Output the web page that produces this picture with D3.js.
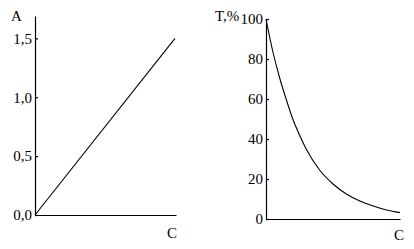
<!DOCTYPE html>
<html>
<head>
<meta charset="utf-8">
<script src="https://cdn.jsdelivr.net/npm/d3@7"></script>
<style>
  body { margin: 0; background: #fff; }
  svg { display: block; }
  text { font-family: "Liberation Serif", "Times New Roman", serif; fill: #000; }
  .axis text { font-size: 15px; }
  .axis path, .axis line { stroke: #000; stroke-width: 1.2; }
</style>
</head>
<body>
<div id="chart"></div>
<script>
// left panel: absorbance A vs concentration C
const absC = [0, 10];
const absA = [0, 1.5];
const absTicks = [0, 0.5, 1.0, 1.5];
const absTickLabels = ['0,0', '0,5', '1,0', '1,5'];

// right panel: transmittance T,% vs concentration C
const trC = [0, 0.5, 1, 1.5, 2, 2.5, 3, 4, 5, 6, 7, 8, 9, 10];
const trT = [100, 84, 71, 60, 50, 42, 35, 24.5, 17.5, 12.5, 9, 6.5, 4.5, 3.2];
const trTicks = [0, 20, 40, 60, 80, 100];
const trTickLabels = ['0', '20', '40', '60', '80', '100'];

const W = 414, H = 249;

const svg = d3.select('#chart')
  .append('svg')
  .attr('width', W)
  .attr('height', H);

function panel(cfg) {
  const g = svg.append('g');

  const x = d3.scaleLinear().domain(cfg.xDomain).range(cfg.xRange);
  const y = d3.scaleLinear().domain(cfg.yDomain).range(cfg.yRange);

  g.append('g')
    .attr('class', 'axis')
    .attr('transform', `translate(${cfg.xRange[0]},0)`)
    .call(
      d3.axisLeft(y)
        .tickValues(cfg.ticks)
        .tickFormat((d, i) => cfg.tickLabels[i])
        .tickSizeInner(-3)
        .tickSizeOuter(0)
        .tickPadding(3),
    );

  g.append('g')
    .attr('class', 'axis')
    .attr('transform', `translate(0,${cfg.yRange[0]})`)
    .call(d3.axisBottom(x).tickValues([]).tickSizeOuter(0));

  const line = d3.line()
    .x((d) => x(d[0]))
    .y((d) => y(d[1]))
    .curve(cfg.curve);

  g.append('path')
    .datum(d3.zip(cfg.cs, cfg.vs))
    .attr('d', line)
    .attr('fill', 'none')
    .attr('stroke', '#000')
    .attr('stroke-width', 1.1);

  g.append('text')
    .attr('x', cfg.yLabel[0])
    .attr('y', cfg.yLabel[1])
    .attr('font-size', '15px')
    .text(cfg.yLabel[2]);

  g.append('text')
    .attr('x', cfg.xLabel[0])
    .attr('y', cfg.xLabel[1])
    .attr('font-size', '15px')
    .text('C');
}

panel({
  xDomain: [0, 10.07],
  xRange: [35, 176],
  yDomain: [0, 1.69],
  yRange: [215, 16],
  ticks: absTicks,
  tickLabels: absTickLabels,
  cs: absC,
  vs: absA,
  curve: d3.curveLinear,
  yLabel: [11, 21, 'A'],
  xLabel: [167, 238],
});

panel({
  xDomain: [0, 10],
  xRange: [266, 400],
  yDomain: [0, 100],
  yRange: [219, 19],
  ticks: trTicks,
  tickLabels: trTickLabels,
  cs: trC,
  vs: trT,
  curve: d3.curveMonotoneX,
  yLabel: [215, 21, 'T,%'],
  xLabel: [394, 240],
});
</script>
</body>
</html>
